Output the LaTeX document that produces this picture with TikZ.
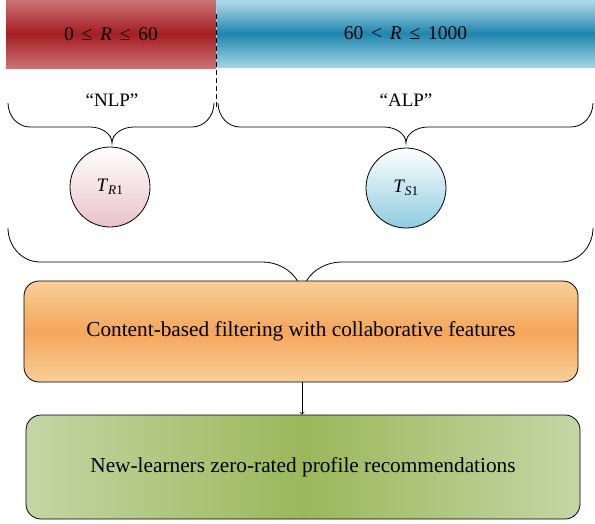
\documentclass[tikz,border=0pt]{standalone}
\usepackage{fontspec}
\setmainfont{Liberation Serif}
\definecolor{redD}{HTML}{A41E22}
\definecolor{redL}{HTML}{CB7275}
\definecolor{bluD}{HTML}{1E86AE}
\definecolor{bluL}{HTML}{A2D4E5}
\definecolor{oraD}{HTML}{F4A65C}
\definecolor{oraL}{HTML}{F9CF97}
\definecolor{grnD}{HTML}{9BB85B}
\definecolor{grnL}{HTML}{C4D6A5}
\definecolor{pinkC}{HTML}{E8C2CA}
\definecolor{bluC}{HTML}{8ECCE0}
\newcommand\mybrace[8]{% x1,x2,xc,ytop,ymid,ytip,aend,acenter
  \draw[brace line] (#1,#4) .. controls (#1,#4+0.55*#5-0.55*#4) and (#1+0.45*#7,#5) .. (#1+#7,#5)
    -- (#3-#8,#5) .. controls (#3-0.45*#8,#5) and (#3,#6-0.55*#6+0.55*#5) .. (#3,#6)
    .. controls (#3,#6-0.55*#6+0.55*#5) and (#3+0.45*#8,#5) .. (#3+#8,#5)
    -- (#2-#7,#5) .. controls (#2-0.45*#7,#5) and (#2,#4+0.55*#5-0.55*#4) .. (#2,#4);}
\newcommand\rel[1]{\hspace{0.4em}#1\hspace{0.4em}}
\begin{document}
\begin{tikzpicture}[x=1pt,y=-1pt,
  txt/.style={font=\fontsize{19}{22}\selectfont},
  boxtxt/.style={font=\fontsize{21.3}{25}\selectfont},
  band/.style={font=\fontsize{19.5}{22}\selectfont,inner sep=0pt,minimum height=68pt},
  brace line/.style={line width=0.8pt},
  ball/.style={circle,draw,line width=0.8pt,minimum size=80pt,inner sep=0pt,font=\fontsize{19}{22}\selectfont,top color=white},
  stage/.style={draw,line width=0.8pt,rounded corners=15pt,minimum width=554pt,boxtxt}]
\useasboundingbox (0,0) rectangle (595,523);
\node[band,minimum width=210pt,top color=redL,bottom color=redL,middle color=redD] (red) at (111,34) {0\rel{≤}\textit{R}\rel{≤}60};
\node[band,minimum width=379pt,minimum height=67pt,draw=bluL,top color=bluL!80!white,bottom color=bluL,middle color=bluD] (blue) at (405.5,33.5) {60\rel{<}\textit{R}\rel{≤}1000};
\coordinate (d1) at (216,14);
\coordinate (d2) at (216,110);
\draw[dashed,line width=0.8pt,dash pattern=on 5pt off 3pt] (d1) -- (d2);
\node[txt] (nlp) at (112,100) {“NLP”};
\node[txt] (alp) at (406,100) {“ALP”};
\mybrace{8}{214}{112}{103}{127}{143}{22}{22}
\mybrace{218}{593}{406}{103}{127}{143}{22}{22}
\node[ball,bottom color=pinkC] (tr) at (110,187) {\textit{T}\textsubscript{\textit{R}1}};
\node[ball,bottom color=bluC] (ts) at (406,188) {\textit{T}\textsubscript{\textit{S}1}};
\mybrace{8}{593}{302}{228}{262}{297}{32}{40}
\node[stage,minimum height=101pt,top color=oraL,bottom color=oraL,middle color=oraD] (cbf) at (301,331.5) {Content-based filtering with collaborative features};
\node[stage,minimum height=104pt,left color=grnL,right color=grnL,middle color=grnD] (rec) at (303,467) {New-learners zero-rated profile recommendations};
\draw[->,line width=0.8pt] (cbf.south -| 302,0) -- (rec.north -| 302,0);
\end{tikzpicture}
\end{document}
